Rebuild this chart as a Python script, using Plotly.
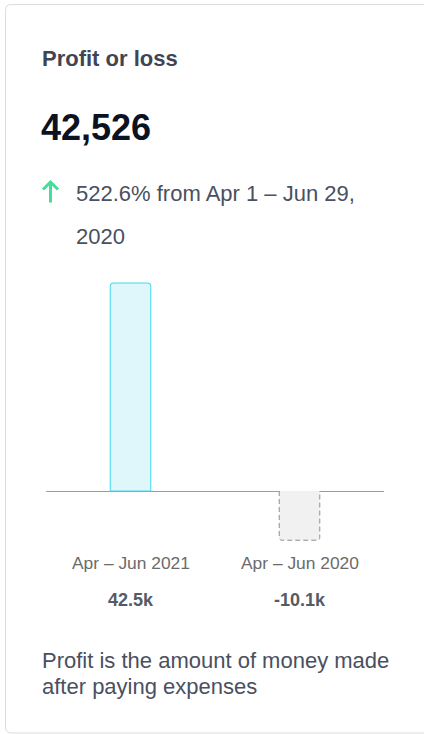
import plotly.graph_objects as go

categories = ["Apr – Jun 2021", "Apr – Jun 2020"]
values = [42526, -10063]
title_text = "Profit or loss"
footer_lines = ["Profit is the amount of money made", "after paying expenses"]
prev_period = "Apr 1 – Jun 29, 2020"

W, H = 424, 734
L, R, T, B = 46, 40, 270, 189
PW, PH = W - L - R, H - T - B
FONT = "Liberation Sans, Arial, sans-serif"


def px(x):
    return (x - L) / PW


def py(y):
    return (H - B - y) / PH


# y range derived from pixel scale so baseline sits at y=491
top_val = values[0] * (491 - T) / (491 - 283)
bot_val = -values[0] * (H - B - 491) / (491 - 283)

bar_w = 0.24
xs = list(range(len(categories)))

fig = go.Figure()
fig.add_trace(go.Bar(
    x=[xs[0]], y=[values[0]], width=bar_w,
    marker=dict(color="#dff7fb", line=dict(color="#3cd8ee", width=1)),
    hoverinfo="skip",
))
fig.add_trace(go.Bar(
    x=[xs[1]], y=[values[1]], width=bar_w,
    marker=dict(color="#f1f1f1", line=dict(width=0)),
    hoverinfo="skip",
))
fig.update_layout(barcornerradius=3)

shapes = []
# dashed outline of negative bar (rounded bottom corners)
xu = 2.0 / PW          # x data units per pixel
yu = (top_val - bot_val) / PH  # y data units per pixel
bx0, bx1, by = xs[1] - bar_w / 2, xs[1] + bar_w / 2, values[1]
rxd, ryd = 3 * xu, 3 * yu
dpath = (f"M {bx0},0 L {bx0},{by+ryd} Q {bx0},{by} {bx0+rxd},{by} "
         f"L {bx1-rxd},{by} Q {bx1},{by} {bx1},{by+ryd} L {bx1},0")
shapes.append(dict(type="path", xref="x", yref="y", path=dpath,
                   line=dict(color="#8f8f8f", width=1, dash="5px,3px"), layer="above"))
# card border with rounded corners
x0, x1, y0, y1 = px(5.5), px(440), py(4.5), py(733)
rx, ry = 6 / PW, 6 / PH
path = (f"M {x0+rx},{y0} L {x1},{y0} L {x1},{y1} L {x0+rx},{y1} "
        f"Q {x0},{y1} {x0},{y1+ry} L {x0},{y0-ry} Q {x0},{y0} {x0+rx},{y0} Z")
shapes.append(dict(type="path", xref="paper", yref="paper", path=path,
                   line=dict(color="#dcdcdc", width=1), fillcolor="rgba(0,0,0,0)", layer="below"))
# up arrow icon
apath = (f"M {px(50.5)},{py(202.5)} L {px(50.5)},{py(182)} "
         f"M {px(43)},{py(189.5)} L {px(50.5)},{py(182)} L {px(58)},{py(189.5)}")
shapes.append(dict(type="path", xref="paper", yref="paper", path=apath,
                   line=dict(color="#46dc9c", width=3)))

ann = []
ann.append(dict(text=f"<b>{title_text}</b>", x=px(40), y=py(59), font=dict(size=22, color="#3f4553")))
ann.append(dict(text=f"<b>{values[0]:,}</b>", x=px(39), y=py(127), font=dict(size=36, color="#0b1222")))
pct = (values[0] - values[1]) / abs(values[1]) * 100
ann.append(dict(text=f"{pct:.1f}% from {prev_period.rsplit(' ', 1)[0]}", x=px(74), y=py(193),
                font=dict(size=22, color="#4a5060")))
ann.append(dict(text=prev_period.rsplit(' ', 1)[1], x=px(74), y=py(236),
                font=dict(size=22, color="#4a5060")))
for i, ln in enumerate(footer_lines):
    ann.append(dict(text=ln, x=px(40), y=py(660 + 26 * i), font=dict(size=22, color="#4a5060")))
for a in ann:
    a.update(xref="paper", yref="paper", xanchor="left", yanchor="middle", showarrow=False)

for xi, c, v in zip(xs, categories, values):
    ann.append(dict(text=c, x=xi, xref="x", y=py(563), yref="paper", showarrow=False,
                    xanchor="center", yanchor="middle", font=dict(size=17.4, color="#6b6b6b")))
    ann.append(dict(text=f"<b>{v/1000:.1f}k</b>", x=xi, xref="x", y=py(600), yref="paper",
                    showarrow=False, xanchor="center", yanchor="middle",
                    font=dict(size=18, color="#555b66")))

fig.update_layout(
    width=W, height=H, margin=dict(l=L, r=R, t=T, b=B, autoexpand=False),
    paper_bgcolor="white", plot_bgcolor="white", showlegend=False,
    font=dict(family=FONT),
    shapes=shapes, annotations=ann,
    xaxis=dict(range=[-0.5, 1.5], showticklabels=False, showgrid=False, zeroline=False,
               fixedrange=True),
    yaxis=dict(range=[bot_val, top_val], showticklabels=False, showgrid=False,
               zeroline=True, zerolinecolor="#9b9da4", zerolinewidth=1, fixedrange=True),
)

fig.write_html("out.html", config=dict(displayModeBar=False),
               post_script="document.body.style.margin='0';document.body.style.overflow='hidden';")
